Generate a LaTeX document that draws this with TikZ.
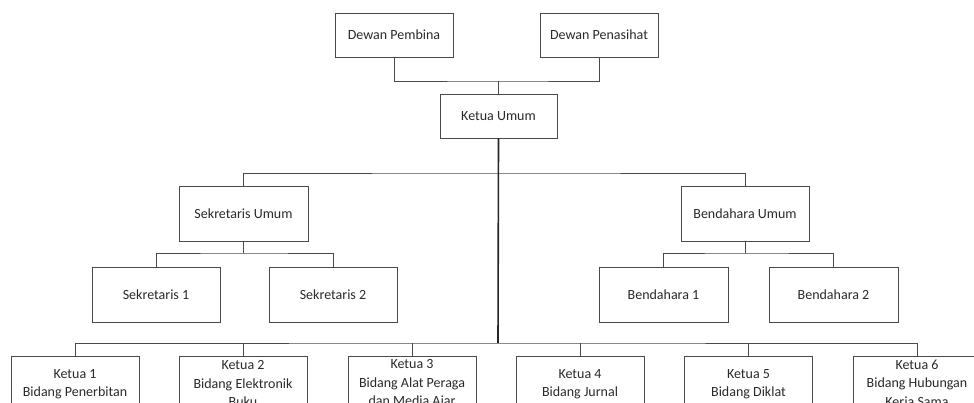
\documentclass[tikz,border=0pt]{standalone}
\usepackage{fontspec}
\setmainfont{Carlito}
\definecolor{boxline}{HTML}{4A4A4A}
\definecolor{txt}{HTML}{2A2A2A}
\begin{document}
\begin{tikzpicture}[x=1pt,y=-1pt,
  orgbox/.style={draw=boxline,line width=0.9pt,fill=white,text=txt,align=center,
    inner sep=0pt,font=\fontsize{14}{18.5}\selectfont},
  small/.style={orgbox,minimum width=118pt,minimum height=44pt},
  mid/.style={orgbox,minimum width=128pt,minimum height=55pt},
  conn/.style={draw=boxline,line width=0.9pt},
  trunk/.style={draw=black!85,line width=1.6pt}]
\useasboundingbox (0,0) rectangle (974,403);
\clip (0,0) rectangle (974,403);
\fill[white] (0,0) rectangle (974,403);
% top
\node[small] (dpb) at (394,35) {Dewan Pembina};
\node[small] (dps) at (599,35) {Dewan Penasihat};
\node[small,minimum width=117pt] (ku) at (498.5,116) {Ketua Umum};
% second level
\node[mid,minimum width=129pt] (su) at (243.5,213.5) {Sekretaris Umum};
\node[mid] (bu) at (745,213.5) {Bendahara Umum};
% third level
\node[mid] (s1) at (156,294.5) {Sekretaris 1};
\node[mid] (s2) at (333,294.5) {Sekretaris 2};
\node[mid,minimum width=129pt] (b1) at (663.5,294.5) {Bendahara 1};
\node[mid,minimum width=129pt] (b2) at (833.5,294.5) {Bendahara 2};
% bottom
\node[mid,minimum height=56pt] (k1) at (75,384) {Ketua 1\\Bidang Penerbitan};
\node[mid,minimum height=56pt] (k2) at (243,384) {Ketua 2\\Bidang Elektronik\\Buku};
\node[mid,minimum height=56pt] (k3) at (412,384) {Ketua 3\\Bidang Alat Peraga\\dan Media Ajar};
\node[mid,minimum height=56pt] (k4) at (580,384) {Ketua 4\\Bidang Jurnal};
\node[mid,minimum height=56pt] (k5) at (748.5,384) {Ketua 5\\Bidang Diklat};
\node[mid,minimum height=56pt] (k6) at (917,384) {Ketua 6\\Bidang Hubungan\\Kerja Sama};
% junctions
\coordinate (j0) at (498.5,81);
\coordinate (j1) at (498,173);
\coordinate (j2) at (498,343);
\coordinate (j3) at (243.5,253);
\coordinate (j4) at (745,253);
% connectors
\draw[conn] (dpb.south) |- (j0) -| (dps.south);
\draw[conn] (j0) -- (ku.north);
\draw[conn] (su.north) |- (j1) -| (bu.north);
\draw[conn] (su.south) -- (j3);
\draw[conn] (s1.north) |- (j3) -| (s2.north);
\draw[conn] (bu.south) -- (j4);
\draw[conn] (b1.north) |- (j4) -| (b2.north);
\draw[conn] (k1.north) |- (j2) -| (k6.north);
\draw[conn] (k2.north) -- (k2.north |- j2);
\draw[conn] (k3.north) -- (k3.north |- j2);
\draw[conn] (k4.north) -- (k4.north |- j2);
\draw[conn] (k5.north) -- (k5.north |- j2);
\draw[trunk] (ku.south) -- (j2);
\end{tikzpicture}
\end{document}
